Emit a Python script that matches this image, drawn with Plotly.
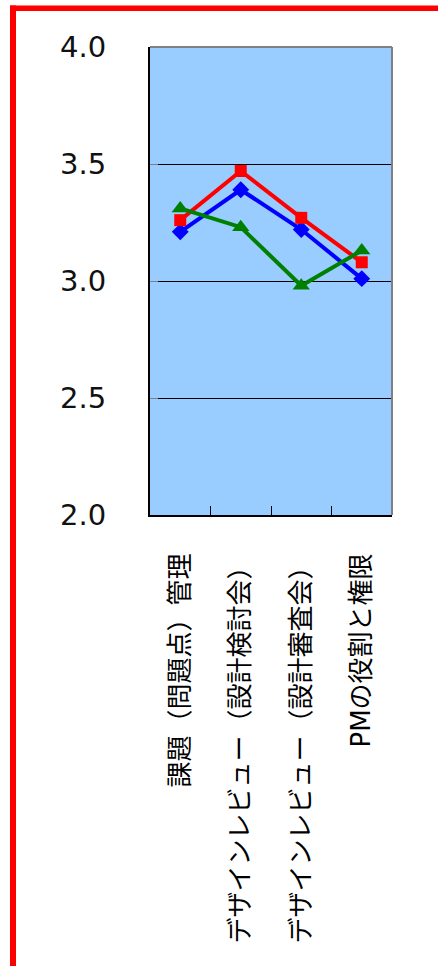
import plotly.graph_objects as go

# Survey items and mean scores for three groups
categories = [
    "課題（問題点）管理",
    "デザインレビュー（設計検討会）",
    "デザインレビュー（設計審査会）",
    "PMの役割と権限",
]
series_blue = [3.21, 3.39, 3.22, 3.01]
series_red = [3.26, 3.47, 3.27, 3.08]
series_green = [3.31, 3.23, 2.98, 3.13]
y_ticks = [2.0, 2.5, 3.0, 3.5, 4.0]

W, H = 438, 966
L, R, T, B = 150, 46, 47, 451
pw, ph = W - L - R, H - T - B


def px_x(p):
    return (p - L) / pw


def px_y(p):
    return (H - B - p) / ph


fig = go.Figure()
for vals, color, symbol, size in [
    (series_blue, "#0000FF", "diamond", 13),
    (series_red, "#FF0000", "square", 12),
    (series_green, "#008000", "triangle-up", 15),
]:
    fig.add_trace(go.Scatter(
        x=categories, y=vals, mode="lines+markers",
        line=dict(color=color, width=4),
        marker=dict(color=color, symbol=symbol, size=size, line=dict(width=0)),
        showlegend=False, cliponaxis=False,
    ))

shapes = [
    # plot frame: grey top and right edges
    dict(type="line", xref="paper", yref="paper", x0=0, x1=1, y0=1, y1=1,
         line=dict(color="#808080", width=2)),
    dict(type="line", xref="paper", yref="paper", x0=1, x1=1, y0=0, y1=1,
         line=dict(color="#808080", width=2)),
    # red frame on the top and left of the page
    dict(type="rect", xref="paper", yref="paper", layer="above",
         x0=px_x(10), x1=px_x(W + 2), y0=px_y(11), y1=px_y(5.5),
         fillcolor="#FF0000", line=dict(width=0)),
    dict(type="rect", xref="paper", yref="paper", layer="above",
         x0=px_x(10), x1=px_x(16), y0=px_y(H + 2), y1=px_y(5.5),
         fillcolor="#FF0000", line=dict(width=0)),
]

fig.update_layout(
    width=W, height=H,
    margin=dict(l=L, r=R, t=T, b=B, pad=0),
    paper_bgcolor="white",
    plot_bgcolor="#99CCFF",
    shapes=shapes,
    xaxis=dict(
        type="category", range=[-0.5, 3.5],
        showline=True, linecolor="#000000", linewidth=2,
        ticks="inside", tickson="boundaries", ticklen=9, tickcolor="#000000", tickwidth=1,
        tickangle=-90, ticklabelstandoff=26,
        tickfont=dict(family="DejaVu Sans, Noto Sans CJK JP", size=26, color="#000000"),
        showgrid=False, zeroline=False,
    ),
    yaxis=dict(
        range=[2, 4], tickvals=y_ticks, tickformat=".1f",
        showline=True, linecolor="#000000", linewidth=2,
        ticks="inside", ticklen=8, tickcolor="#808080", tickwidth=1,
        ticklabelstandoff=36,
        tickfont=dict(family="DejaVu Sans", size=29, color="#111111"),
        showgrid=True, gridcolor="#000000", gridwidth=1, zeroline=False,
    ),
)

fig.write_html("out.html")
